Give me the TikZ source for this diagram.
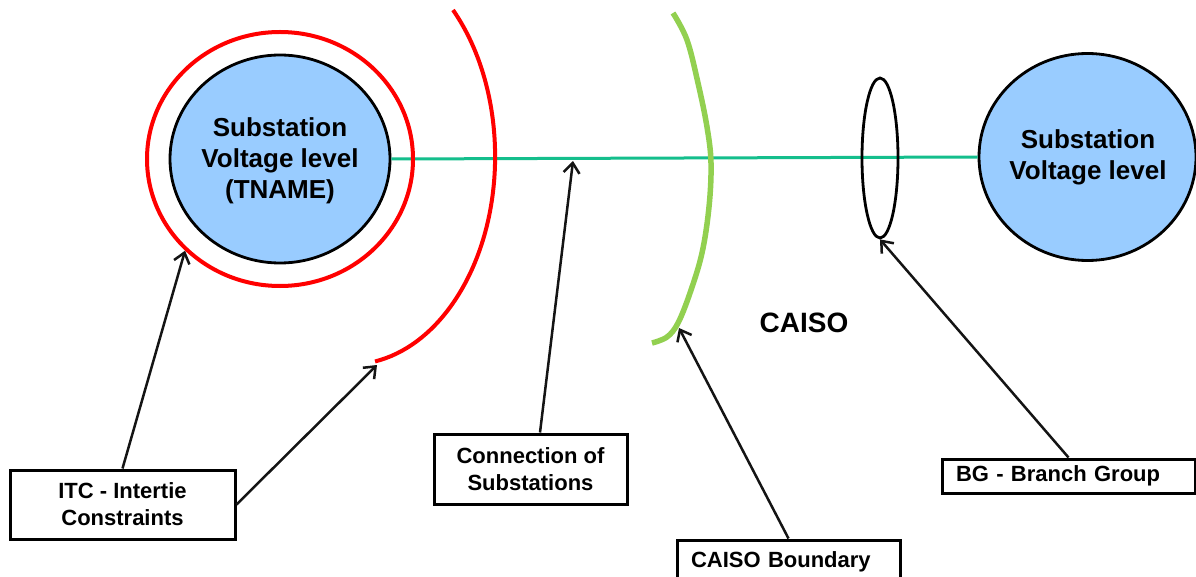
\documentclass[tikz,border=0pt]{standalone}
\usepackage{fontspec}
\setmainfont{Liberation Sans}
\usetikzlibrary{shapes.geometric,arrows.meta}
\definecolor{subfill}{RGB}{153,204,255}
\definecolor{linkgreen}{RGB}{20,190,140}
\definecolor{boundgreen}{RGB}{146,208,80}
\definecolor{ringred}{RGB}{255,0,0}
\begin{document}
\begin{tikzpicture}[x=1pt,y=-1pt,
  substation/.style={ellipse, draw=black, fill=subfill, line width=2.8pt, inner sep=0pt},
  ring/.style={ellipse, draw=ringred, line width=4pt, inner sep=0pt},
  bigtext/.style={font=\fontsize{26}{31}\selectfont\bfseries, align=center},
  labelbox/.style={draw=black, line width=3pt, font=\fontsize{22}{27}\selectfont\bfseries, align=center, inner sep=0pt},
  leftbox/.style={draw=black, line width=3pt, font=\fontsize{22}{27}\selectfont\bfseries, align=left, inner xsep=14pt, inner ysep=0pt},
  pointer/.style={draw=black!92, line width=2.5pt, -{Straight Barb[length=10pt,width=16pt,line width=2.5pt]}},
  link/.style={draw=linkgreen, line width=3pt},
]
\useasboundingbox (0,0) rectangle (1196,577);
\fill[white] (0,0) rectangle (1196,577);

% substations
\node[substation, minimum width=220pt, minimum height=208pt] (ls) at (280,159) {};
\node[substation, minimum width=217pt, minimum height=207pt] (rs) at (1087.5,157) {};
\node[bigtext] (lstext) at (280,161) {Substation\\Voltage level\\(TNAME)};
\node[bigtext] (rstext) at (1088,157) {Substation\\Voltage level};

% connection line
\draw[link] (ls.east) -- (rs.west);

% ITC ring around left substation
\node[ring, minimum width=266pt, minimum height=254pt] (itcring) at (280,159) {};

% outer red arc (intertie)
\draw[ringred, line width=4pt] (453,10) arc[start angle=-44.8, end angle=80.1, x radius=145, y radius=208];
\coordinate (arcend) at (377,365);

% CAISO boundary arc
\draw[boundgreen, line width=5.5pt] plot[smooth, tension=0.6] coordinates {(673,13) (687,40) (698,83) (707,127) (711,163) (709,207) (702,253) (690,293) (678,323) (667,337) (652,343)};
\coordinate (boundpt) at (679,328);

% branch group ring
\node[ellipse, draw=black, line width=2.8pt, minimum width=36pt, minimum height=160pt, inner sep=0pt] (bgring) at (880,158) {};

% connection point on line
\coordinate (linkpt) at (573,161);

% CAISO label
\node[font=\fontsize{28}{32}\selectfont\bfseries] (caiso) at (804,323) {CAISO};

% label boxes
\node[labelbox, minimum width=225pt, minimum height=69pt] (itc) at (122.5,504.5) {ITC - Intertie\\Constraints};
\node[labelbox, minimum width=193pt, minimum height=70pt] (conn) at (530.5,469) {Connection of\\Substations};
\node[leftbox, text width=195pt, minimum height=44pt] (cb) at (788.5,562) {CAISO Boundary};
\node[leftbox, text width=225pt, minimum height=34pt] (bg) at (1068.5,476) {BG - Branch Group};

% pointers
\draw[pointer] (itc.north) -- (itcring.224);
\draw[pointer] (itc.east) -- (arcend);
\draw[pointer] ([xshift=9.5pt]conn.north) -- (linkpt);
\draw[pointer] (cb.north) -- (boundpt);
\draw[pointer] (bg.north) -- (bgring.south);
\end{tikzpicture}
\end{document}
